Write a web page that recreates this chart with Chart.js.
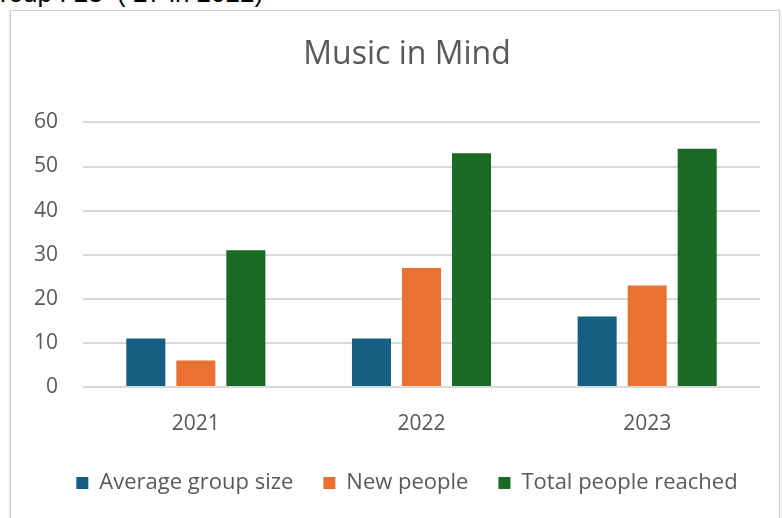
<!DOCTYPE html>
<html lang="en">
<head>
    <meta charset="UTF-8">
    <title>Music in Mind</title>
    <script src="https://cdn.jsdelivr.net/npm/chart.js"></script>
    <style>
        html, body { margin: 0; padding: 0; width: 782px; height: 518px; overflow: hidden; background: #fff; }
        .note { position: absolute; left: 0; top: -20px; font: 26px/26px "Liberation Sans", Arial, sans-serif; color: #000; white-space: pre; }
        .frame { position: absolute; left: 10px; top: 10px; width: 768px; height: 520px; border: 1px solid #cfcfcf; box-shadow: 0 1px 3px rgba(0,0,0,0.18); background: #fff; }
        .chart-box { position: absolute; left: 0; top: 0; width: 782px; height: 518px; }
    </style>
</head>
<body>
<div class="note">roup : 23  ( 27 in 2022)</div>
<div class="frame"></div>
<div class="chart-box"><canvas id="chartMusic"></canvas></div>

<script>
    // values
    const years = ["2021", "2022", "2023"];
    const avgGroupSize = [11, 11, 16];
    const newPeople = [6, 27, 23];
    const totalReached = [31, 53, 54];
    const seriesNames = ["Average group size", "New people", "Total people reached"];

    const textGrey = "#595959";
    const fontFamily = "'Open Sans', 'Noto Sans', sans-serif";

    const ctx = document.getElementById("chartMusic").getContext("2d");

    new Chart(ctx, {
        type: "bar",
        data: {
            labels: years,
            datasets: [
                { label: seriesNames[0], data: avgGroupSize, backgroundColor: "#156082" },
                { label: seriesNames[1], data: newPeople, backgroundColor: "#E97132" },
                { label: seriesNames[2], data: totalReached, backgroundColor: "#196B24" }
            ]
        },
        options: {
            responsive: true,
            maintainAspectRatio: false,
            animation: false,
            categoryPercentage: 0.665,
            barPercentage: 0.78,
            layout: { padding: { left: 32, right: 0, top: 36, bottom: 14 } },
            plugins: {
                title: {
                    display: true,
                    text: "Music in Mind",
                    color: textGrey,
                    font: { family: fontFamily, size: 32, weight: "normal" },
                    padding: { top: 0, bottom: 48 }
                },
                legend: {
                    position: "bottom",
                    labels: {
                        color: textGrey,
                        boxWidth: 12,
                        boxHeight: 12,
                        padding: 30,
                        font: { family: fontFamily, size: 22 }
                    }
                },
                tooltip: { enabled: false }
            },
            scales: {
                x: {
                    grid: { display: false, drawTicks: false },
                    border: { display: false },
                    ticks: { color: textGrey, padding: 24, font: { family: fontFamily, size: 21 } },
                    afterFit: s => { s.height = 55; }
                },
                y: {
                    min: 0,
                    max: 60,
                    ticks: { stepSize: 10, color: textGrey, padding: 25, font: { family: fontFamily, size: 21 } },
                    grid: { color: "#d9d9d9", lineWidth: 2, drawTicks: false },
                    border: { display: false },
                    afterFit: s => { s.width = 51; }
                },
                yRight: {
                    position: "right",
                    display: true,
                    ticks: { display: false },
                    grid: { display: false, drawTicks: false },
                    border: { display: false },
                    afterFit: s => { s.width = 22; }
                }
            }
        }
    });
</script>
</body>
</html>
